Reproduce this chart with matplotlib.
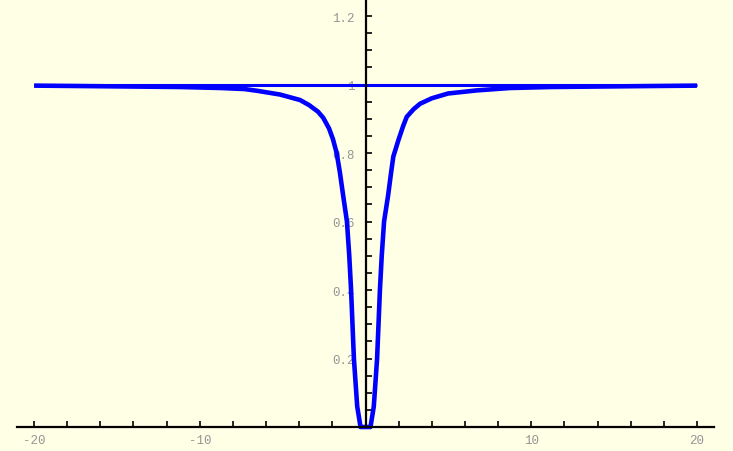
import matplotlib.pyplot as plt
import numpy as np

# values
curve_x = [-20.0, -17.6, -11.2, -8.7, -7.3, -6.55, -5.16, -3.95, -3.4, -2.87,
           -2.55, -2.2, -1.96, -1.74, -1.55, -1.36, -1.12, -0.98, -0.87, -0.7,
           -0.5, -0.3, 0.3, 0.5, 0.7, 0.87, 0.98, 1.12, 1.36, 1.55,
           1.68, 2.0, 2.28, 2.49, 2.9, 3.29, 4.0, 4.98, 6.7, 8.7,
           11.2, 17.6, 20.0]
curve_y = [0.997, 0.996, 0.993, 0.990, 0.987, 0.982, 0.971, 0.955, 0.940, 0.921,
           0.903, 0.872, 0.840, 0.800, 0.745, 0.680, 0.600, 0.500, 0.400, 0.200,
           0.060, 0.0, 0.0, 0.060, 0.200, 0.400, 0.500, 0.600, 0.675, 0.745,
           0.790, 0.840, 0.880, 0.906, 0.928, 0.944, 0.960, 0.974, 0.983, 0.990,
           0.993, 0.996, 0.997]
level_x = [-20, 20]
level_y = [1, 1]

x_major = [-20, -10, 10, 20]
x_minor = [v for v in range(-20, 21, 2) if v not in x_major and v != 0]
y_major = [0.2, 0.4, 0.6, 0.8, 1.0, 1.2]
y_major_labels = ["0.2", "0.4", "0.6", "0.8", "1", "1.2"]
y_minor = [round(v, 2) for v in np.arange(0.05, 1.26, 0.05) if round(v, 2) not in y_major]

bg = "#FFFFE6"
plt.rcParams['axes.unicode_minus'] = False

fig = plt.figure(figsize=(7.33, 4.52), dpi=100, facecolor=bg)
ax = fig.add_axes([17 / 733, 24 / 452, 697 / 733, 428 / 452])
ax.set_facecolor(bg)

ax.plot(level_x, level_y, color="#0000FF", linewidth=2.2, solid_capstyle="butt")
ax.plot(curve_x, curve_y, color="#0000FF", linewidth=3.3, solid_joinstyle="round",
        solid_capstyle="butt", clip_on=False)

ax.set_xlim(-21.03, 21.03)
ax.set_ylim(0, 1.25)

ax.spines['top'].set_visible(False)
ax.spines['right'].set_visible(False)
ax.spines['left'].set_position(('data', 0))
for s in ('left', 'bottom'):
    ax.spines[s].set_linewidth(1.6)
    ax.spines[s].set_color("black")

ax.set_xticks(x_major)
ax.set_xticks(x_minor, minor=True)
ax.set_yticks(y_major)
ax.set_yticklabels(y_major_labels)
ax.set_yticks(y_minor, minor=True)

ax.tick_params(axis='both', which='both', direction='in', color='black', width=1.2,
               labelcolor='#959595', labelsize=9)
ax.tick_params(axis='both', which='major', length=4.5)
ax.tick_params(axis='both', which='minor', length=4)
ax.tick_params(axis='x', pad=5)
ax.tick_params(axis='y', pad=8)
for lab in ax.get_xticklabels() + ax.get_yticklabels():
    lab.set_family("Liberation Mono")

fig.savefig("out.png", dpi=100, facecolor=bg)
